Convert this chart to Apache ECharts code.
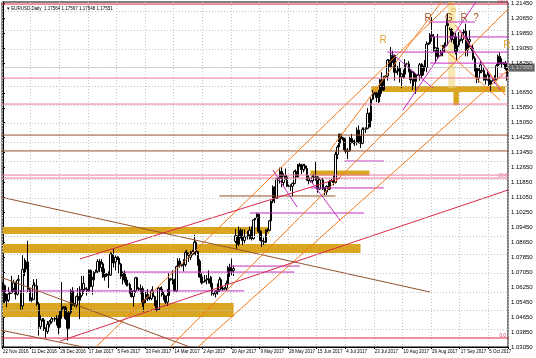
<!DOCTYPE html>
<html><head><meta charset="utf-8">
<script src="https://cdn.jsdelivr.net/npm/echarts@6/dist/echarts.min.js"></script>
<style>html,body{margin:0;padding:0;background:#fff}#c{width:536px;height:358px}</style>
</head><body><div id="c"></div>
<script>
// ---------- data ----------
const chartTitle = '\u25BE EURUSD,Daily  1.17564 1.17567 1.17548 1.17551';
const xTickLabels = ['22 Nov 2016','11 Dec 2016','29 Dec 2016','17 Jan 2017','5 Feb 2017','23 Feb 2017','14 Mar 2017','2 Apr 2017','20 Apr 2017','9 May 2017','28 May 2017','15 Jun 2017','4 Jul 2017','23 Jul 2017','10 Aug 2017','29 Aug 2017','17 Sep 2017','5 Oct 2017'];
const yTicks = [1.0305,1.0385,1.0465,1.0545,1.0625,1.0705,1.0785,1.0865,1.0945,1.1025,1.1105,1.1185,1.1265,1.1345,1.1425,1.1505,1.1585,1.1665,1.1745,1.1825,1.1905,1.1985,1.2065,1.2145];
const lastPrice = 1.17565;
// daily bars [open, close, low, high]
const candles = [
[1.0630,1.0633,1.0590,1.0654],[1.0633,1.0551,1.0540,1.0640],[1.0551,1.0556,1.0518,1.0590],[1.0556,1.0589,1.0545,1.0625],
[1.0590,1.0595,1.0585,1.0600],[1.0595,1.0619,1.0590,1.0686],[1.0619,1.0648,1.0600,1.0665],[1.0648,1.0588,1.0560,1.0655],[1.0588,1.0662,1.0580,1.0670],[1.0662,1.0665,1.0630,1.0690],
[1.0600,1.0525,1.0505,1.0610],[1.0525,1.0719,1.0505,1.0796],[1.0719,1.0722,1.0685,1.0780],[1.0722,1.0760,1.0705,1.0770],[1.0760,1.0614,1.0600,1.0874],[1.0614,1.0560,1.0550,1.0620],
[1.0555,1.0560,1.0545,1.0570],[1.0560,1.0636,1.0555,1.0668],[1.0636,1.0632,1.0610,1.0650],[1.0632,1.0534,1.0525,1.0669],[1.0534,1.0414,1.0366,1.0545],[1.0414,1.0450,1.0400,1.0475],
[1.0450,1.0450,1.0440,1.0460],[1.0450,1.0400,1.0390,1.0460],[1.0400,1.0388,1.0352,1.0410],[1.0388,1.0427,1.0375,1.0445],[1.0427,1.0440,1.0410,1.0450],[1.0440,1.0455,1.0430,1.0465],
[1.0455,1.0455,1.0450,1.0460],[1.0455,1.0455,1.0440,1.0465],[1.0455,1.0459,1.0420,1.0475],[1.0459,1.0410,1.0373,1.0475],[1.0410,1.0497,1.0405,1.0500],[1.0497,1.0520,1.0455,1.0653],
[1.0520,1.0515,1.0510,1.0525],[1.0515,1.0457,1.0450,1.0525],[1.0457,1.0405,1.0340,1.0490],[1.0405,1.0490,1.0395,1.0500],[1.0490,1.0605,1.0480,1.0615],[1.0605,1.0530,1.0525,1.0625],
[1.0530,1.0530,1.0520,1.0540],[1.0530,1.0575,1.0515,1.0580],[1.0575,1.0555,1.0540,1.0620],[1.0555,1.0580,1.0454,1.0630],[1.0580,1.0612,1.0570,1.0685],[1.0612,1.0645,1.0590,1.0685],
[1.0620,1.0615,1.0605,1.0625],[1.0615,1.0605,1.0580,1.0625],[1.0605,1.0715,1.0600,1.0720],[1.0715,1.0630,1.0625,1.0720],[1.0630,1.0665,1.0585,1.0680],[1.0665,1.0705,1.0655,1.0710],
[1.0705,1.0710,1.0700,1.0720],[1.0710,1.0762,1.0700,1.0775],[1.0762,1.0730,1.0705,1.0775],[1.0730,1.0750,1.0705,1.0775],[1.0750,1.0680,1.0675,1.0760],[1.0680,1.0695,1.0660,1.0725],
[1.0695,1.0690,1.0680,1.0700],[1.0690,1.0690,1.0620,1.0710],[1.0690,1.0800,1.0685,1.0810],[1.0800,1.0755,1.0730,1.0810],[1.0755,1.0760,1.0730,1.0829],[1.0760,1.0785,1.0715,1.0795],
[1.0785,1.0780,1.0770,1.0790],[1.0780,1.0748,1.0700,1.0790],[1.0748,1.0683,1.0670,1.0755],[1.0683,1.0700,1.0640,1.0710],[1.0700,1.0663,1.0650,1.0715],[1.0663,1.0640,1.0630,1.0680],
[1.0640,1.0640,1.0630,1.0650],[1.0640,1.0601,1.0590,1.0650],[1.0601,1.0575,1.0570,1.0620],[1.0575,1.0605,1.0520,1.0610],[1.0605,1.0675,1.0595,1.0680],[1.0675,1.0615,1.0605,1.0680],
[1.0615,1.0615,1.0605,1.0625],[1.0615,1.0617,1.0590,1.0640],[1.0617,1.0540,1.0520,1.0630],[1.0540,1.0560,1.0494,1.0565],[1.0560,1.0587,1.0540,1.0600],[1.0587,1.0563,1.0550,1.0615],
[1.0563,1.0565,1.0555,1.0575],[1.0565,1.0605,1.0555,1.0615],[1.0605,1.0575,1.0570,1.0630],[1.0575,1.0545,1.0525,1.0580],[1.0545,1.0505,1.0495,1.0555],[1.0505,1.0620,1.0500,1.0625],
[1.0620,1.0615,1.0610,1.0625],[1.0615,1.0585,1.0575,1.0630],[1.0585,1.0565,1.0555,1.0600],[1.0565,1.0545,1.0535,1.0580],[1.0545,1.0580,1.0525,1.0615],[1.0580,1.0670,1.0575,1.0700],
[1.0670,1.0665,1.0660,1.0675],[1.0665,1.0655,1.0640,1.0715],[1.0655,1.0605,1.0600,1.0670],[1.0605,1.0735,1.0600,1.0740],[1.0735,1.0765,1.0715,1.0780],[1.0765,1.0740,1.0730,1.0780],
[1.0740,1.0745,1.0735,1.0750],[1.0745,1.0745,1.0710,1.0775],[1.0745,1.0810,1.0735,1.0820],[1.0810,1.0795,1.0775,1.0825],[1.0795,1.0785,1.0760,1.0810],[1.0785,1.0800,1.0770,1.0820],
[1.0800,1.0815,1.0795,1.0825],[1.0815,1.0865,1.0800,1.0906],[1.0865,1.0815,1.0795,1.0875],[1.0815,1.0765,1.0740,1.0820],[1.0765,1.0680,1.0675,1.0775],[1.0680,1.0650,1.0640,1.0700],
[1.0650,1.0655,1.0645,1.0660],[1.0655,1.0665,1.0650,1.0690],[1.0665,1.0670,1.0640,1.0690],[1.0670,1.0665,1.0645,1.0715],[1.0665,1.0645,1.0625,1.0685],[1.0645,1.0590,1.0580,1.0680],
[1.0590,1.0590,1.0580,1.0595],[1.0590,1.0600,1.0570,1.0610],[1.0600,1.0610,1.0585,1.0645],[1.0610,1.0665,1.0600,1.0680],[1.0665,1.0615,1.0610,1.0675],[1.0615,1.0615,1.0605,1.0630],
[1.0615,1.0620,1.0610,1.0625],[1.0620,1.0645,1.0605,1.0660],[1.0645,1.0730,1.0640,1.0738],[1.0730,1.0710,1.0680,1.0750],[1.0710,1.0715,1.0690,1.0778],[1.0715,1.0725,1.0685,1.0740],
[1.0870,1.0900,1.0860,1.0936],[1.0900,1.0855,1.0830,1.0905],[1.0855,1.0930,1.0845,1.0950],[1.0930,1.0895,1.0885,1.0940],[1.0895,1.0875,1.0850,1.0935],[1.0875,1.0895,1.0860,1.0935],
[1.0895,1.0895,1.0890,1.0900],[1.0895,1.0905,1.0880,1.0925],[1.0905,1.0930,1.0880,1.0950],[1.0930,1.0885,1.0875,1.0950],[1.0885,1.0985,1.0880,1.0990],[1.0985,1.0995,1.0955,1.1000],
[1.1000,1.1015,1.0995,1.1023],[1.1015,1.0925,1.0915,1.1020],[1.0925,1.0875,1.0870,1.0930],[1.0875,1.0870,1.0840,1.0890],[1.0870,1.0865,1.0850,1.0890],[1.0865,1.0930,1.0860,1.0935],
[1.0930,1.0930,1.0920,1.0940],[1.0930,1.0980,1.0925,1.0985],[1.0980,1.1085,1.0975,1.1090],[1.1085,1.1160,1.1075,1.1170],[1.1160,1.1100,1.1075,1.1165],[1.1100,1.1205,1.1100,1.1210],
[1.1205,1.1205,1.1195,1.1215],[1.1205,1.1245,1.1180,1.1265],[1.1245,1.1185,1.1160,1.1268],[1.1185,1.1220,1.1165,1.1235],[1.1220,1.1215,1.1200,1.1260],[1.1215,1.1165,1.1160,1.1225],
[1.1165,1.1165,1.1160,1.1175],[1.1165,1.1165,1.1140,1.1175],[1.1165,1.1180,1.1110,1.1185],[1.1180,1.1245,1.1175,1.1250],[1.1245,1.1215,1.1205,1.1255],[1.1215,1.1280,1.1210,1.1285],
[1.1280,1.1280,1.1270,1.1290],[1.1280,1.1255,1.1230,1.1285],[1.1255,1.1275,1.1240,1.1285],[1.1275,1.1260,1.1250,1.1285],[1.1260,1.1210,1.1195,1.1275],[1.1210,1.1195,1.1175,1.1225],
[1.1195,1.1195,1.1185,1.1200],[1.1195,1.1215,1.1180,1.1225],[1.1215,1.1210,1.1195,1.1230],[1.1210,1.1215,1.1195,1.1296],[1.1215,1.1150,1.1130,1.1220],[1.1150,1.1200,1.1145,1.1210],
[1.1200,1.1200,1.1195,1.1205],[1.1200,1.1150,1.1145,1.1210],[1.1150,1.1135,1.1118,1.1160],[1.1135,1.1165,1.1120,1.1170],[1.1165,1.1150,1.1145,1.1190],[1.1150,1.1195,1.1145,1.1200],
[1.1195,1.1195,1.1190,1.1205],[1.1195,1.1185,1.1170,1.1225],[1.1185,1.1335,1.1180,1.1350],[1.1335,1.1375,1.1310,1.1385],[1.1375,1.1445,1.1370,1.1445],[1.1445,1.1425,1.1395,1.1445],
[1.1425,1.1420,1.1410,1.1430],[1.1420,1.1360,1.1350,1.1425],[1.1360,1.1350,1.1340,1.1380],[1.1350,1.1355,1.1310,1.1370],[1.1355,1.1420,1.1350,1.1430],[1.1420,1.1400,1.1395,1.1445],
[1.1400,1.1400,1.1390,1.1410],[1.1400,1.1400,1.1380,1.1415],[1.1400,1.1465,1.1385,1.1480],[1.1465,1.1410,1.1395,1.1490],[1.1410,1.1395,1.1370,1.1435],[1.1395,1.1470,1.1390,1.1480],
[1.1470,1.1470,1.1465,1.1480],[1.1470,1.1475,1.1450,1.1480],[1.1475,1.1555,1.1470,1.1583],[1.1555,1.1515,1.1480,1.1560],[1.1515,1.1630,1.1480,1.1640],[1.1630,1.1665,1.1625,1.1680],
[1.1665,1.1665,1.1655,1.1670],[1.1665,1.1640,1.1615,1.1670],[1.1640,1.1645,1.1610,1.1680],[1.1645,1.1735,1.1615,1.1740],[1.1735,1.1680,1.1660,1.1775],[1.1680,1.1750,1.1675,1.1755],
[1.1750,1.1755,1.1745,1.1760],[1.1755,1.1840,1.1730,1.1845],[1.1840,1.1805,1.1795,1.1845],[1.1805,1.1860,1.1800,1.1910],[1.1860,1.1865,1.1825,1.1890],[1.1865,1.1775,1.1730,1.1870],
[1.1775,1.1780,1.1770,1.1785],[1.1780,1.1795,1.1760,1.1810],[1.1795,1.1750,1.1720,1.1830],[1.1750,1.1765,1.1690,1.1770],[1.1765,1.1765,1.1740,1.1790],[1.1765,1.1820,1.1745,1.1845],
[1.1820,1.1820,1.1815,1.1825],[1.1820,1.1780,1.1775,1.1835],[1.1780,1.1735,1.1715,1.1790],[1.1735,1.1775,1.1680,1.1780],[1.1775,1.1725,1.1700,1.1780],[1.1725,1.1760,1.1660,1.1765],
[1.1760,1.1760,1.1755,1.1765],[1.1760,1.1815,1.1730,1.1825],[1.1815,1.1760,1.1740,1.1825],[1.1760,1.1810,1.1755,1.1820],[1.1810,1.1800,1.1780,1.1840],[1.1800,1.1925,1.1775,1.1940],
[1.1925,1.1930,1.1920,1.1935],[1.1930,1.1975,1.1925,1.1985],[1.1975,1.1965,1.1940,1.2070],[1.1965,1.1890,1.1885,1.1980],[1.1890,1.1905,1.1825,1.1910],[1.1905,1.1860,1.1845,1.1980],
[1.1860,1.1865,1.1855,1.1870],[1.1865,1.1885,1.1860,1.1900],[1.1885,1.1915,1.1860,1.1920],[1.1915,1.1920,1.1880,1.1935],[1.1920,1.2025,1.1915,1.2060],[1.2025,1.2035,1.2010,1.2092],
[1.2000,1.2005,1.1995,1.2015],[1.2005,1.1950,1.1935,1.2010],[1.1950,1.1965,1.1925,1.1990],[1.1965,1.1885,1.1870,1.1985],[1.1885,1.1920,1.1840,1.1925],[1.1920,1.1945,1.1910,1.1990],
[1.1945,1.1950,1.1940,1.1955],[1.1950,1.1985,1.1930,1.1990],[1.1985,1.1995,1.1955,1.2005],[1.1995,1.1895,1.1860,1.2035],[1.1895,1.1940,1.1860,1.1960],[1.1940,1.1950,1.1910,1.2000],
[1.1900,1.1905,1.1890,1.1915],[1.1905,1.1850,1.1840,1.1925],[1.1850,1.1795,1.1780,1.1860],[1.1795,1.1745,1.1717,1.1805],[1.1745,1.1785,1.1720,1.1795],[1.1785,1.1815,1.1770,1.1835],
[1.1780,1.1785,1.1770,1.1790],[1.1785,1.1735,1.1730,1.1800],[1.1735,1.1735,1.1710,1.1765],[1.1735,1.1760,1.1730,1.1790],[1.1760,1.1710,1.1695,1.1770],[1.1710,1.1730,1.1668,1.1735],
[1.1730,1.1735,1.1725,1.1740],[1.1735,1.1735,1.1715,1.1760],[1.1735,1.1810,1.1730,1.1820],[1.1810,1.1860,1.1800,1.1870],[1.1860,1.1825,1.1815,1.1880],[1.1825,1.1820,1.1800,1.1850],
[1.1820,1.1825,1.1815,1.1830],[1.1825,1.1795,1.1785,1.1835],[1.1795,1.1756,1.1730,1.1800]
];
// drawn objects, in data coordinates (bar index, price)
const goldZones = [[0,149,1.0910,1.0947],[0,200,1.0808,1.0856],[0,129,1.0466,1.0540],[172,205,1.1222,1.1250],[206,281,1.1669,1.1701],[252,255,1.1599,1.1690]];
const paleZones = [[249,253,1.1690,1.2161]];
const redLevels = [[1.2140,'100.0'],[1.0353,'0.0']];
const pinkLevels = [[1.1744,'38.2'],[1.1209,'23.6']];
const pinkH = [[1.1225,-1,283],[1.1605,-1,283]];
const brownH = [[1.1439,-1,283],[1.1354,-1,283],[1.1113,121,186]];
const magentaH = [[1.0605,-1,135],[1.0706,67,163],[1.0738,127,166],[1.1022,138,202],[1.1156,172,213],[1.1300,191,213],[1.1883,215,283],[1.1964,239,283],[1.2044,238,264],[1.1824,239,283]];
const orangeT = [[52,1.0305,252,1.2161],[93.5,1.0305,282.5,1.2113],[109,1.0305,282.5,1.1787],[183,1.1359,246,1.2161],[253,1.2028,281,1.1653],[244.5,1.1921,278,1.1626]];
const redT = [[32,1.0337,282.5,1.1145],[43,1.0776,188.5,1.1209]];
const brownT = [[-1.6,1.1108,239,1.0599],[-1.6,1.0680,104.6,1.0305],[-1.6,1.0396,44.8,1.0305]];
const magentaT = [[151,1.1252,164.5,1.1054],[171.8,1.1198,188.5,1.0984],[216.5,1.1883,240.5,1.1691],[255.7,1.2001,278,1.1680],[223.8,1.1573,265.2,1.2161]];
const goldMarks = [[212.6,1.1947,'R'],[281.8,1.1921,'R'],[252,1.2108,'\u25CB']];
const brownMarks = [[237.8,1.2065,'R'],[249.5,1.2065,'G'],[257.9,1.2065,'R'],[264.6,1.2065,'?']];

// ---------- chart ----------
const C = {gold:'#daa520', pale:'rgba(240,215,110,0.55)', red:'#d8284a', pink:'#e8789e', brown:'#94502c', magenta:'#c22ec2', orange:'#f47a1a'};
const series = [];
series.push({type:'candlestick', name:'EURUSD', xAxisIndex:0, yAxisIndex:0, data:candles, z:3, barWidth:2,
  itemStyle:{color:'#ffffff', color0:'#000000', borderColor:'#000000', borderColor0:'#000000', borderWidth:1},
  markLine:{silent:true, symbol:['none','none'], animation:false, data:[{yAxis:lastPrice,
    lineStyle:{color:'#909090', width:0.6, type:'solid', opacity:0.6},
    label:{show:true, position:'end', distance:1, formatter:lastPrice.toFixed(5), color:'#fff', backgroundColor:'#000', padding:[1,2,1,2], fontSize:6, fontFamily:'Liberation Sans'}}]}
});
// grid lines (horizontal) at price labels
series.push({type:'line', xAxisIndex:1, yAxisIndex:0, data:[], z:0,
  markLine:{silent:true, symbol:['none','none'], animation:false, label:{show:false},
    lineStyle:{color:'#c4c4c4', type:[1,2], width:1}, data:yTicks.map(v=>({yAxis:v}))}});
// zones
series.push({type:'line', xAxisIndex:1, yAxisIndex:0, data:[], z:1,
  markArea:{silent:true, animation:false, itemStyle:{color:C.gold},
    data:goldZones.map(z=>[{coord:[z[0],z[2]]},{coord:[z[1],z[3]]}])}});
series.push({type:'line', xAxisIndex:1, yAxisIndex:0, data:[], z:1,
  markArea:{silent:true, animation:false, itemStyle:{color:C.pale},
    data:paleZones.map(z=>[{coord:[z[0],z[2]]},{coord:[z[1],z[3]]}])}});
function seg(a, color, w){
  series.push({type:'line', xAxisIndex:1, yAxisIndex:0, data:a, symbol:'none', silent:true, z:4,
    lineStyle:{color:color, width:w||1}, animation:false});
}
function level(list, color){
  list.forEach(l => {
    series.push({type:'line', xAxisIndex:1, yAxisIndex:0, data:[[-1,l[0]],[283,l[0]]], symbol:'none', silent:true, z:4,
      lineStyle:{color:color, width:1}, animation:false});
    series.push({type:'line', xAxisIndex:1, yAxisIndex:0, data:[], z:5,
      markPoint:{silent:true, animation:false, symbol:'rect', symbolSize:0,
        data:[{coord:[279.5,l[0]], label:{show:true, formatter:l[1], position:'top', distance:0, color:color, fontSize:4.5, fontFamily:'Liberation Sans'}}]}});
  });
}
level(redLevels, C.red);
level(pinkLevels, C.pink);
pinkH.forEach(h => seg([[h[1],h[0]],[h[2],h[0]]], C.pink));
brownH.forEach(h => seg([[h[1],h[0]],[h[2],h[0]]], C.brown));
magentaH.forEach(h => seg([[h[1],h[0]],[h[2],h[0]]], C.magenta));
orangeT.forEach(t => seg([[t[0],t[1]],[t[2],t[3]]], C.orange));
redT.forEach(t => seg([[t[0],t[1]],[t[2],t[3]]], C.red));
brownT.forEach(t => seg([[t[0],t[1]],[t[2],t[3]]], C.brown));
magentaT.forEach(t => seg([[t[0],t[1]],[t[2],t[3]]], C.magenta));
function marks(list, color){
  series.push({type:'line', xAxisIndex:1, yAxisIndex:0, data:[], z:6,
    markPoint:{silent:true, animation:false, symbol:'rect', symbolSize:0,
      data:list.map(m=>({coord:[m[0],m[1]], label:{show:true, formatter:m[2], position:'inside', color:color, fontSize:10, fontFamily:'Liberation Sans'}}))}});
}
marks(goldMarks, '#e3a33a');
marks(brownMarks, '#a0552a');

const option = {
  backgroundColor:'#ffffff', animation:false,
  title:{text:chartTitle, left:2, top:1, textStyle:{fontSize:4.5, fontWeight:'normal', color:'#000', fontFamily:'Liberation Sans'}},
  grid:{left:2, right:28, top:2, bottom:11, show:true, borderColor:'#000', borderWidth:1},
  xAxis:[
    {type:'category', data:candles.map((_, i) => i), boundaryGap:true,
     axisLine:{lineStyle:{color:'#000', width:1}},
     axisTick:{show:true, interval:15, length:2, lineStyle:{color:'#000'}},
     axisLabel:{interval:15, formatter:(v, idx)=> xTickLabels[Math.round(idx/16)] || '', fontSize:4.5, color:'#000', align:'left', margin:2, fontFamily:'Liberation Sans', hideOverlap:false},
     splitLine:{show:true, interval:15, lineStyle:{color:'#c4c4c4', type:[1,2]}}},
    {type:'value', min:-0.5, max:282.5, show:false}
  ],
  yAxis:[{type:'value', position:'right', min:1.0305, max:1.2151, scale:true,
    axisLine:{show:true, lineStyle:{color:'#000', width:1}},
    axisTick:{show:true, length:2, customValues:yTicks, lineStyle:{color:'#000'}},
    axisLabel:{customValues:yTicks, formatter:v => Math.abs(v-lastPrice) < 0.003 ? '' : v.toFixed(5), fontSize:6, color:'#000', margin:3, fontFamily:'Liberation Sans'},
    splitLine:{show:false}}],
  series:series
};
const chart = echarts.init(document.getElementById('c'), null, {renderer:'canvas'});
chart.setOption(option);
</script></body></html>
